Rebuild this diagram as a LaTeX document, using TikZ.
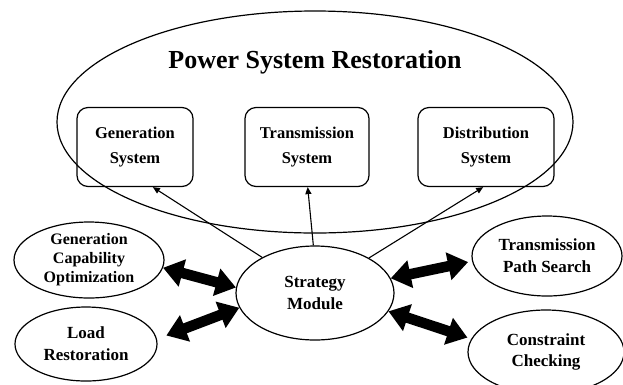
\documentclass[tikz,border=0pt]{standalone}
\usepackage{fontspec}
\setmainfont{Liberation Serif}
\usetikzlibrary{arrows.meta,shapes.geometric}
\begin{document}
\begin{tikzpicture}[x=1pt,y=-1pt,
  ell/.style={draw, ellipse, line width=1.2pt, inner sep=0pt},
  sbox/.style={draw, rounded corners=11pt, line width=1.2pt, inner sep=0pt},
  txt/.style={align=center, font=\fontsize{17}{21.7}\selectfont\bfseries, inner sep=0pt},
  boxtxt/.style={align=center, font=\fontsize{16.5}{25}\selectfont\bfseries, inner sep=0pt},
  thinarr/.style={line width=1.1pt, -{Triangle[length=7pt,width=6pt]}},
  thickarr/.style={line width=10.5pt, {Triangle[length=20pt,width=27pt]}-{Triangle[length=20pt,width=27pt]}}
]
\useasboundingbox (0,0) rectangle (623,384);
\clip (0,0) rectangle (623,384);
% big ellipse
\node[ell, minimum width=516pt, minimum height=222pt] (psr) at (315,122) {};
\node[font=\fontsize{26}{30}\selectfont\bfseries, inner sep=0pt] (title) at (315,62) {Power System Restoration};
% boxes
\node[sbox, minimum width=116pt, minimum height=79pt] (gen) at (135,147) {};
\node[boxtxt] (gent) at (gen) {Generation\\System};
\node[sbox, minimum width=124pt, minimum height=79pt] (trans) at (307,147) {};
\node[boxtxt] (transt) at (trans) {Transmission\\System};
\node[sbox, minimum width=136pt, minimum height=79pt] (dist) at (486,147) {};
\node[boxtxt] (distt) at (dist) {Distribution\\System};
% ellipses
\node[ell, minimum width=158pt, minimum height=94pt] (sm) at (315,293) {};
\node[txt] (smt) at (sm) {Strategy\\Module};
\node[ell, minimum width=150pt, minimum height=76pt] (gco) at (89,260) {};
\node[txt, font=\fontsize{16}{19}\selectfont\bfseries] (gcot) at (gco) {Generation\\Capability\\Optimization};
\node[ell, minimum width=142pt, minimum height=74pt] (load) at (86,344) {};
\node[txt] (loadt) at (load) {Load\\Restoration};
\node[ell, minimum width=150pt, minimum height=80pt] (tps) at (547,256) {};
\node[txt] (tpst) at (tps) {Transmission\\Path Search};
\node[ell, minimum width=156pt, minimum height=84pt] (cc) at (546,352) {};
\node[txt] (cct) at (cc) {Constraint\\Checking};
% thin arrows
\draw[thinarr] (sm.146) -- (gen.-66);
\draw[thinarr] (sm.92) -- (trans.-89);
\draw[thinarr] (sm.33) -- (dist.-94);
% thick double arrows
\draw[thickarr] (gco.-6) -- (sm.176);
\draw[thickarr, shorten <=10pt] (load.4) -- (sm.191);
\draw[thickarr, shorten >=4pt] (sm.11) -- (tps.184);
\draw[thickarr, shorten >=4pt] (sm.-14) -- (cc.170);
\end{tikzpicture}
\end{document}
